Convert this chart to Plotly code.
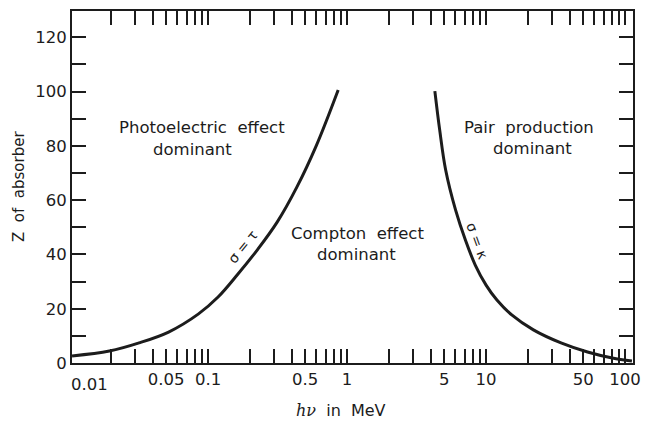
import plotly.graph_objects as go

# ---- data ----
# sigma = tau boundary (photoelectric / Compton)
pe_energy = [0.0105, 0.0195, 0.0319, 0.052, 0.0849, 0.118, 0.163, 0.227, 0.314, 0.435, 0.603, 0.863]
pe_z      = [2.6,    4.4,    7.4,    11.4,  18.0,   24.3,  32.6,  41.8,  51.9,  64.8,  80.3,  100.6]

# sigma = kappa boundary (Compton / pair production)
pp_energy = [4.28,  4.64, 5.12, 6.03, 7.10, 8.36, 10.0, 11.97, 15.3, 21.9, 34.6, 53.7, 80.9, 112]
pp_z      = [100.2, 85.8, 71.1, 56.4, 45.3, 36.1, 28.7, 23.2,  17.7, 12.2, 7.4,  4.05, 1.84, 0.74]

# x ticks (log axis); labelled ones get text
x_tick_vals = [0.02, 0.03, 0.04, 0.05, 0.06, 0.07, 0.08, 0.09,
               0.1, 0.2, 0.3, 0.4, 0.5, 0.6, 0.7, 0.8, 0.9,
               1, 2, 3, 4, 5, 6, 7, 8, 9,
               10, 20, 30, 40, 50, 60, 70, 80, 90, 100]
x_labelled = {0.05: "0.05", 0.1: "0.1", 0.5: "0.5", 1: "1", 5: "5", 10: "10", 50: "50", 100: "100"}
x_first_label = "0.01"

y_tick_vals = [0, 10, 20, 30, 40, 50, 60, 70, 80, 90, 100, 110, 120]
y_tick_text = ["0", "", "20", "", "40", "", "60", "", "80", "", "100", "", "120"]

x_tick_text = [x_labelled.get(v, "") for v in x_tick_vals]

INK = "#1c1c1c"
FONT = "DejaVu Sans"

fig = go.Figure()
fig.add_trace(go.Scatter(x=pe_energy, y=pe_z, mode="lines",
                         line=dict(color=INK, width=3, shape="spline", smoothing=1.0),
                         hoverinfo="skip", showlegend=False))
fig.add_trace(go.Scatter(x=pp_energy, y=pp_z, mode="lines",
                         line=dict(color=INK, width=3, shape="spline", smoothing=1.0),
                         hoverinfo="skip", showlegend=False))

axis_common = dict(showline=True, linecolor=INK, linewidth=2, mirror="ticks",
                   ticks="inside", ticklen=14, tickwidth=1.8, tickcolor=INK,
                   showgrid=False, zeroline=False,
                   tickfont=dict(family=FONT, size=16.5, color=INK))

fig.update_xaxes(type="log", range=[-1.979, 2.057],
                 tickmode="array", tickvals=x_tick_vals, ticktext=x_tick_text,
                 **axis_common)
fig.update_yaxes(range=[0, 129.7], tickmode="array", tickvals=y_tick_vals, ticktext=y_tick_text,
                 **axis_common)

ann_font = dict(family=FONT, size=16.5, color=INK)
NB = "\u00a0"

def text_ann(x, y, text, **kw):
    fig.add_annotation(x=x, y=y, xref="x", yref="y", text=text, showarrow=False,
                       font=kw.pop("font", ann_font), **kw)

# region labels (x in log10 units for log axis)
text_ann(-1.043, 86.6, "Photoelectric" + NB + NB + "effect")
text_ann(-1.113, 78.5, "dominant")
text_ann(0.078, 47.9, "Compton" + NB + NB + "effect")
text_ann(0.071, 39.8, "dominant")
text_ann(1.312, 86.9, "Pair" + NB + NB + "production")
text_ann(1.333, 79.2, "dominant")

# curve labels
text_ann(-0.752, 42.7, "σ" + NB + "=" + NB + "τ", textangle=-51,
         font=dict(family=FONT, size=14, color=INK))
text_ann(0.936, 44.9, "σ" + NB + "=" + NB + "κ", textangle=70,
         font=dict(family=FONT, size=14, color=INK))

# first x tick label (sits just inside the left frame in the reference)
fig.add_annotation(x=-1.851, y=0, xref="x", yref="paper", yanchor="top", yshift=-10,
                   text=x_first_label, showarrow=False, font=ann_font)

# axis titles
fig.add_annotation(x=-0.043, y=0, xref="x", yref="paper", yanchor="middle", yshift=-47,
                   text="<span style='font-family:DejaVu Serif'><i>hν</i></span>" + NB + NB + "in" + NB + NB + "MeV",
                   showarrow=False, font=dict(family=FONT, size=16, color=INK))
fig.add_annotation(x=0, y=0.5, xref="paper", yref="paper", xanchor="center", yanchor="middle",
                   xshift=-53, textangle=-90,
                   text="Z" + NB + NB + "of" + NB + NB + "absorber",
                   showarrow=False, font=dict(family=FONT, size=15, color=INK))

fig.update_layout(width=650, height=421,
                  margin=dict(l=72, r=9, t=11, b=58),
                  paper_bgcolor="white", plot_bgcolor="white",
                  showlegend=False)

fig.write_html("out.html")
